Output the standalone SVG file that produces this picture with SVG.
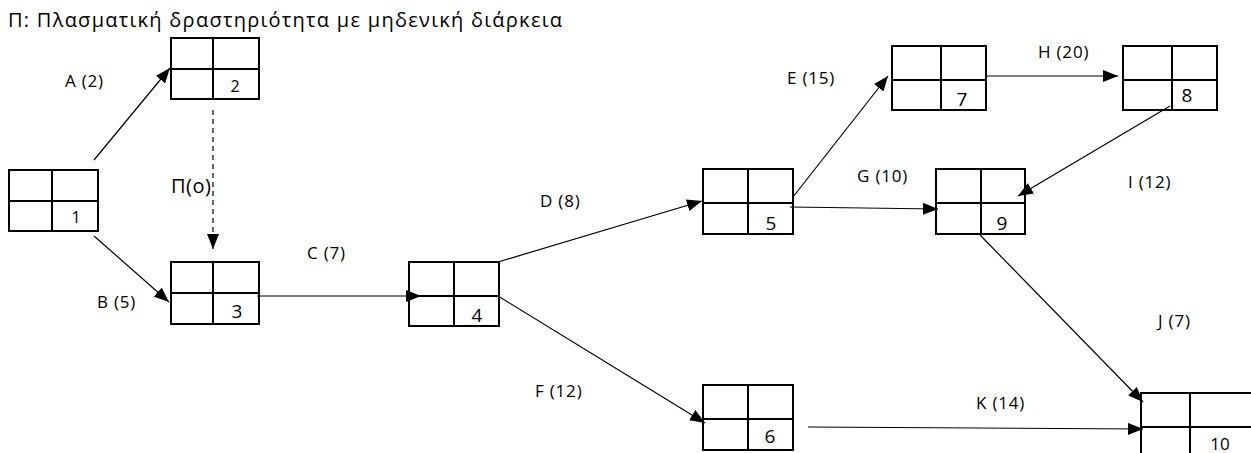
<svg xmlns="http://www.w3.org/2000/svg" width="1251" height="453" viewBox="0 0 1251 453">
<style>
.box{fill:#fff;stroke:#000;stroke-width:2}
.div{stroke:#000;stroke-width:2}
.edge{stroke:#000;stroke-width:1.2;fill:none}
.dash{stroke-dasharray:5,4}
.lbl{font-family:"Open Sans","Noto Sans","DejaVu Sans",sans-serif;font-size:17px;letter-spacing:0.8px;fill:#000}
.num{font-family:"Open Sans","Noto Sans","DejaVu Sans",sans-serif;font-size:19px;fill:#000;text-anchor:middle}
.sm{font-size:16px}
</style>
<defs>
<marker id="ah" markerUnits="userSpaceOnUse" markerWidth="15" markerHeight="12" refX="15" refY="6" orient="auto">
<path d="M0,0 L15,6 L0,12 z" fill="#000"/>
</marker>
</defs>
<rect width="1251" height="453" fill="#fff"/>
<text x="8" y="27" textLength="554" lengthAdjust="spacing" style="font-family:'Open Sans','Noto Sans','DejaVu Sans',sans-serif;font-size:20px;fill:#000">Π: Πλασματική δραστηριότητα με μηδενική διάρκεια</text>
<g id="labels">
<text class="lbl" x="65" y="87">A (2)</text>
<text class="lbl" x="171" y="193" style="font-size:20px;letter-spacing:0.5px">Π(ο)</text>
<text class="lbl" x="97" y="308">B (5)</text>
<text class="lbl" x="307" y="259">C (7)</text>
<text class="lbl" x="540" y="207">D (8)</text>
<text class="lbl" x="787" y="84">E (15)</text>
<text class="lbl" x="535" y="397">F (12)</text>
<text class="lbl" x="857" y="182">G (10)</text>
<text class="lbl" x="1038" y="58">H (20)</text>
<text class="lbl" x="1128" y="188">I (12)</text>
<text class="lbl" x="1158" y="327">J (7)</text>
<text class="lbl" x="976" y="409">K (14)</text>
</g>
<g id="node1"><rect class="box" x="9" y="170" width="89" height="61"/><line class="div" x1="52" y1="170" x2="52" y2="231"/><line class="div" x1="9" y1="201" x2="98" y2="201"/><text class="num sm" x="76" y="223">1</text></g>
<g id="node2"><rect class="box" x="171" y="38" width="88" height="61"/><line class="div" x1="213" y1="38" x2="213" y2="99"/><line class="div" x1="171" y1="69" x2="259" y2="69"/><text class="num sm" x="235" y="92">2</text></g>
<g id="node3"><rect class="box" x="171" y="262" width="88" height="62"/><line class="div" x1="213" y1="262" x2="213" y2="324"/><line class="div" x1="171" y1="293" x2="259" y2="293"/><text class="num" x="237" y="318">3</text></g>
<g id="node4"><rect class="box" x="409" y="262" width="90" height="64"/><line class="div" x1="454" y1="262" x2="454" y2="326"/><line class="div" x1="409" y1="296" x2="499" y2="296"/><text class="num" x="477" y="322">4</text></g>
<g id="node5"><rect class="box" x="703" y="169" width="90" height="65"/><line class="div" x1="748" y1="169" x2="748" y2="234"/><line class="div" x1="703" y1="203" x2="793" y2="203"/><text class="num" x="771" y="230">5</text></g>
<g id="node6"><rect class="box" x="703" y="385" width="90" height="65"/><line class="div" x1="748" y1="385" x2="748" y2="450"/><line class="div" x1="703" y1="419" x2="793" y2="419"/><text class="num" x="770" y="443">6</text></g>
<g id="node7"><rect class="box" x="892" y="46" width="94" height="64"/><line class="div" x1="941" y1="46" x2="941" y2="110"/><line class="div" x1="892" y1="80" x2="986" y2="80"/><text class="num" x="962" y="106">7</text></g>
<g id="node8"><rect class="box" x="1123" y="46" width="94" height="64"/><line class="div" x1="1172" y1="46" x2="1172" y2="110"/><line class="div" x1="1123" y1="80" x2="1217" y2="80"/><text class="num" x="1187" y="102">8</text></g>
<g id="node9"><rect class="box" x="936" y="169" width="89" height="65"/><line class="div" x1="981" y1="169" x2="981" y2="234"/><line class="div" x1="936" y1="203" x2="1025" y2="203"/><text class="num" x="1002" y="230">9</text></g>
<g id="node10"><rect class="box" x="1141" y="393" width="120" height="70"/><line class="div" x1="1190" y1="393" x2="1190" y2="463"/><line class="div" x1="1141" y1="427" x2="1261" y2="427"/><text class="num" x="1220" y="450" style="font-size:17px">10</text></g>
<g id="connectors">
<line class="edge" x1="94" y1="160" x2="170" y2="68" marker-end="url(#ah)"/>
<line class="edge" x1="94" y1="236" x2="169" y2="302" marker-end="url(#ah)"/>
<line class="edge dash" x1="213" y1="110" x2="213" y2="249" marker-end="url(#ah)"/>
<line class="edge" x1="257" y1="296" x2="421" y2="296" marker-end="url(#ah)"/>
<line class="edge" x1="498" y1="262" x2="702" y2="201" marker-end="url(#ah)"/>
<line class="edge" x1="498" y1="296" x2="705" y2="423" marker-end="url(#ah)"/>
<line class="edge" x1="793" y1="197" x2="888" y2="76" marker-end="url(#ah)"/>
<line class="edge" x1="790" y1="207" x2="938" y2="209" marker-end="url(#ah)"/>
<line class="edge" x1="987" y1="76" x2="1118" y2="76" marker-end="url(#ah)"/>
<line class="edge" x1="1170" y1="106" x2="1018" y2="196" marker-end="url(#ah)"/>
<line class="edge" x1="980" y1="235" x2="1143" y2="402" marker-end="url(#ah)"/>
<line class="edge" x1="808" y1="427" x2="1143" y2="429" marker-end="url(#ah)"/>
</g>
</svg>
